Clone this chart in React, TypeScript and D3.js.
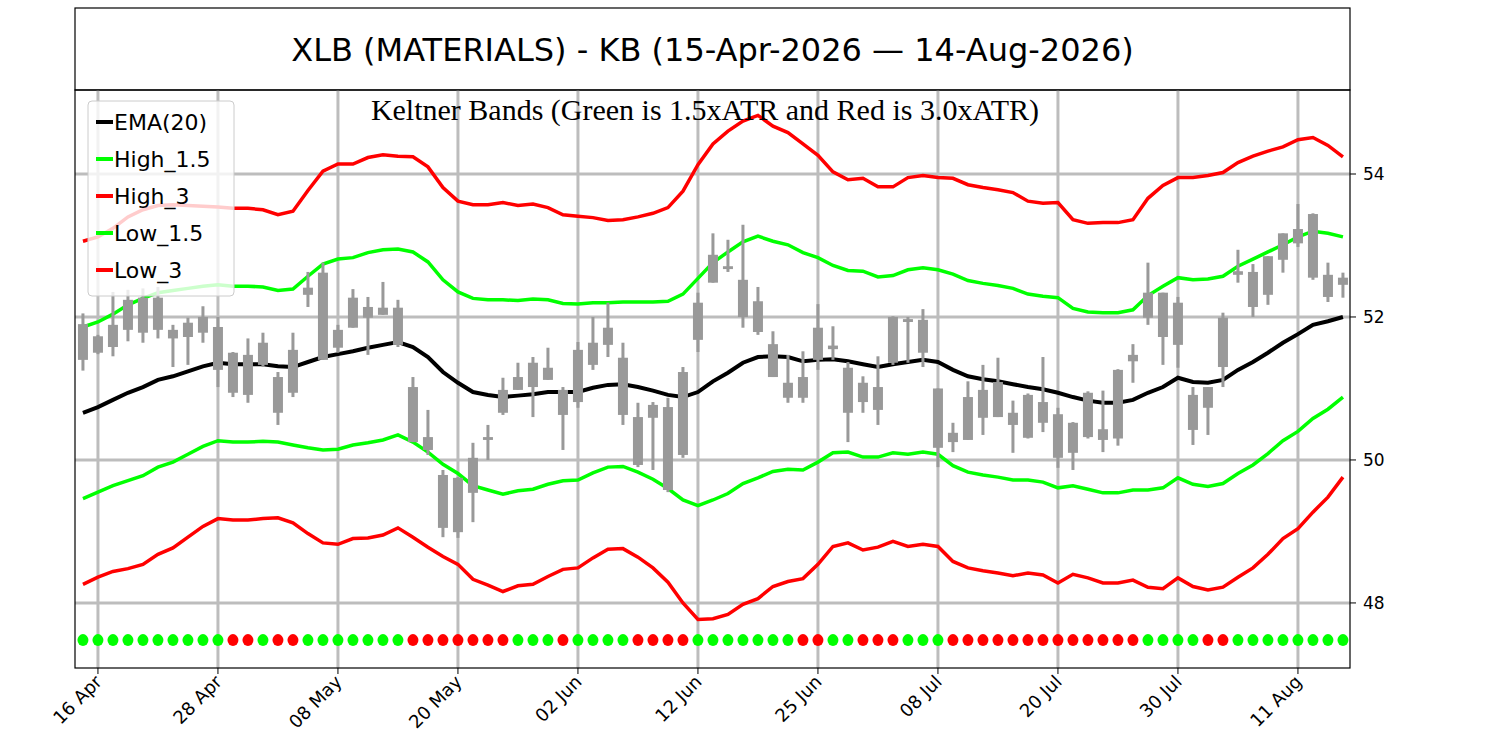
import React from "react";
import * as d3 from "d3";

const tickLabels = ["16 Apr","28 Apr","08 May","20 May","02 Jun","12 Jun","25 Jun","08 Jul","20 Jul","30 Jul","11 Aug"];
const tickIndex = [1,9,17,25,33,41,49,57,65,73,81];

const openV = [51.9,51.73,51.89,52.24,52.27,52.27,51.82,51.92,52.0,51.86,51.5,51.47,51.64,51.16,51.54,52.41,52.62,51.82,52.27,52.14,52.13,52.13,51.02,50.32,49.79,49.75,50.03,50.32,50.98,51.16,51.36,51.29,50.98,51.54,51.64,51.85,51.43,50.6,50.77,50.74,51.23,52.2,52.87,52.71,52.52,52.22,51.62,51.08,51.16,51.85,51.6,51.29,51.08,51.02,52.0,51.97,51.96,51.0,50.38,50.88,50.98,51.09,50.66,50.91,50.81,50.64,50.52,50.94,50.43,51.26,51.47,52.34,52.34,52.2,50.91,51.02,51.99,52.64,52.63,52.85,53.17,53.23,53.44,52.59,52.55];
const closeV = [51.4,51.5,51.58,51.82,51.78,51.82,51.7,51.72,51.78,51.26,50.94,50.91,51.33,50.66,50.94,52.31,51.4,51.57,51.85,51.99,52.03,51.61,50.25,50.14,49.05,48.99,49.54,50.28,50.66,50.98,51.02,51.12,50.63,50.81,51.33,51.61,50.63,49.93,50.59,49.58,50.07,51.68,52.48,52.67,52.0,51.79,51.16,50.87,50.87,51.4,51.55,50.66,50.81,50.7,51.36,51.93,51.5,50.17,50.25,50.28,50.59,50.6,50.49,50.31,50.52,50.03,50.1,50.32,50.28,50.3,51.38,51.99,51.72,51.61,50.42,50.73,51.3,52.59,52.14,52.31,52.8,53.03,52.55,52.28,52.45];
const highV = [52.05,51.75,52.35,52.38,52.4,52.42,51.89,51.99,52.15,52.0,51.51,51.7,51.78,51.23,51.78,52.63,52.76,51.89,52.39,52.28,52.49,52.24,51.16,50.7,49.86,49.76,50.24,50.49,51.15,51.36,51.44,51.57,51.02,51.65,52.0,52.2,51.64,50.8,50.81,50.87,51.3,52.34,53.17,53.08,53.29,52.42,51.8,51.47,51.52,52.18,51.87,51.37,51.17,51.45,52.01,52.0,52.11,51.0,50.52,51.1,51.33,51.43,50.83,50.93,51.44,50.73,50.53,50.96,50.97,51.27,51.62,52.76,52.34,52.28,51.02,51.02,52.06,52.94,52.74,52.85,53.17,53.58,53.45,52.76,52.62];
const lowV = [51.25,51.48,51.45,51.66,51.64,51.7,51.3,51.33,51.64,51.02,50.88,50.8,51.3,50.49,50.88,52.14,51.4,51.5,51.85,51.47,52.03,51.58,50.25,50.07,48.92,48.91,49.13,50.0,50.63,50.98,50.6,51.12,50.14,50.73,51.26,51.44,50.49,49.9,49.86,49.55,50.03,51.51,52.48,52.63,51.85,51.75,51.16,50.8,50.8,51.26,51.4,50.25,50.66,50.49,51.33,51.36,51.3,49.9,50.11,50.28,50.35,50.6,50.1,50.3,50.39,49.89,49.86,50.3,50.11,50.2,51.08,51.89,51.33,51.29,50.21,50.35,51.02,52.48,52.0,52.17,52.62,52.98,52.52,52.21,52.27];
const ema20 = [50.66,50.74,50.84,50.94,51.02,51.12,51.17,51.24,51.31,51.36,51.34,51.34,51.34,51.31,51.3,51.37,51.44,51.48,51.52,51.57,51.61,51.65,51.58,51.44,51.23,51.08,50.95,50.91,50.88,50.9,50.92,50.95,50.95,50.95,51.01,51.05,51.06,51.02,50.97,50.91,50.88,50.95,51.1,51.22,51.36,51.44,51.45,51.44,51.38,51.4,51.41,51.38,51.34,51.3,51.34,51.37,51.4,51.37,51.26,51.17,51.13,51.1,51.06,51.02,50.99,50.94,50.88,50.83,50.8,50.8,50.84,50.94,51.02,51.15,51.09,51.08,51.12,51.26,51.37,51.5,51.64,51.76,51.89,51.94,52.0];
// 1.5 x ATR (distance from EMA to the green bands)
const atr15 = [1.2,1.19,1.2,1.23,1.24,1.22,1.2,1.16,1.12,1.09,1.09,1.09,1.08,1.06,1.09,1.2,1.3,1.33,1.31,1.33,1.33,1.3,1.33,1.33,1.29,1.27,1.31,1.33,1.36,1.33,1.33,1.29,1.24,1.23,1.19,1.15,1.15,1.19,1.24,1.31,1.44,1.59,1.66,1.69,1.69,1.69,1.61,1.57,1.52,1.43,1.31,1.27,1.3,1.26,1.24,1.29,1.29,1.29,1.34,1.34,1.34,1.34,1.34,1.3,1.3,1.33,1.24,1.24,1.26,1.26,1.26,1.36,1.41,1.4,1.43,1.45,1.45,1.45,1.44,1.41,1.37,1.36,1.31,1.23,1.12];
const signal = "GGGGGGGGGGRRGRRGGGGGGGRRRRRRRGGGRGGGGRRRRGGGGGGGRRGGRRRGGGRRRRRRRRRRRRRGGGGRRGGGGGGGGG";

const W = 1500, H = 750;
const L = 75, R = 1350, T = 90, B = 668;

export default function App() {
  const n = ema20.length;
  const x = d3.scaleLinear().domain([-0.53, 84.47]).range([L, R]);
  const y = d3.scaleLinear().domain([47.09, 55.175]).range([B, T]);
  const idx = d3.range(n);
  const line = (vals: number[]) => d3.line<number>().x((i) => x(i)).y((i) => y(vals[i]))(idx) || "";
  const h15 = ema20.map((e, i) => e + atr15[i]);
  const l15 = ema20.map((e, i) => e - atr15[i]);
  const h3 = ema20.map((e, i) => e + 2 * atr15[i]);
  const l3 = ema20.map((e, i) => e - 2 * atr15[i]);
  const grid = "#bdbdbd";
  const legend = [
    { label: "EMA(20)", c: "#000" },
    { label: "High_1.5", c: "#00ff00" },
    { label: "High_3", c: "#ff0000" },
    { label: "Low_1.5", c: "#00ff00" },
    { label: "Low_3", c: "#ff0000" },
  ];
  return (
    <svg width={W} height={H} style={{ position: "absolute", left: 0, top: 0 }} fontFamily="DejaVu Sans">
      <rect width={W} height={H} fill="#fff" />
      <rect x={L} y={8} width={R - L} height={T - 8} fill="none" stroke="#000" strokeWidth={1.2} />
      <text x={(L + R) / 2} y={61} textAnchor="middle" fontSize={32}>XLB (MATERIALS) - KB (15-Apr-2026 — 14-Aug-2026)</text>
      {[48, 50, 52, 54].map((v) => (
        <line key={v} x1={L} x2={R} y1={y(v)} y2={y(v)} stroke={grid} strokeWidth={3} />
      ))}
      {tickIndex.map((t) => (
        <line key={t} x1={x(t)} x2={x(t)} y1={T} y2={B} stroke={grid} strokeWidth={3} />
      ))}
      <path d={line(h3)} fill="none" stroke="#ff0000" strokeWidth={3.5} />
      <path d={line(l3)} fill="none" stroke="#ff0000" strokeWidth={3.5} />
      <path d={line(h15)} fill="none" stroke="#00ff00" strokeWidth={3.5} />
      <path d={line(l15)} fill="none" stroke="#00ff00" strokeWidth={3.5} />
      <path d={line(ema20)} fill="none" stroke="#000" strokeWidth={4} />
      {idx.map((i) => {
        const top = Math.max(openV[i], closeV[i]);
        const bot = Math.min(openV[i], closeV[i]);
        return (
          <g key={i} fill="#999" stroke="none">
            <rect x={x(i) - 1.5} width={3} y={y(highV[i])} height={Math.max(1, y(lowV[i]) - y(highV[i]))} />
            <rect x={x(i) - 5} width={10} y={y(top)} height={Math.max(2, y(bot) - y(top))} />
          </g>
        );
      })}
      {idx.map((i) => (
        <ellipse key={"d" + i} cx={x(i)} cy={y(47.48)} rx={5.5} ry={6} fill={signal[i] === "G" ? "#00ff00" : "#ff0000"} />
      ))}
      <text x={705} y={120} textAnchor="middle" fontSize={30} fontFamily="Liberation Serif">Keltner Bands (Green is 1.5xATR and Red is 3.0xATR)</text>
      <rect x={L} y={T} width={R - L} height={B - T} fill="none" stroke="#000" strokeWidth={1.2} />
      {[48, 50, 52, 54].map((v) => (
        <g key={"yt" + v}>
          <line x1={R} x2={R + 6} y1={y(v)} y2={y(v)} stroke="#000" />
          <text x={R + 13} y={y(v) + 6} fontSize={17}>{v}</text>
        </g>
      ))}
      {tickIndex.map((t, k) => (
        <g key={"xt" + t}>
          <line x1={x(t)} x2={x(t)} y1={B} y2={B + 6} stroke="#000" />
          <text transform={`translate(${x(t) + 5},${B + 15}) rotate(-45)`} textAnchor="end" fontSize={18}>{tickLabels[k]}</text>
        </g>
      ))}
      <rect x={88} y={101} width={146} height={195} rx={4} fill="#fff" fillOpacity={0.8} stroke="#ccc" />
      {legend.map((e, k) => (
        <g key={e.label}>
          <line x1={96} x2={113} y1={122 + k * 37} y2={122 + k * 37} stroke={e.c} strokeWidth={4} />
          <text x={114} y={130 + k * 37} fontSize={22}>{e.label}</text>
        </g>
      ))}
    </svg>
  );
}
